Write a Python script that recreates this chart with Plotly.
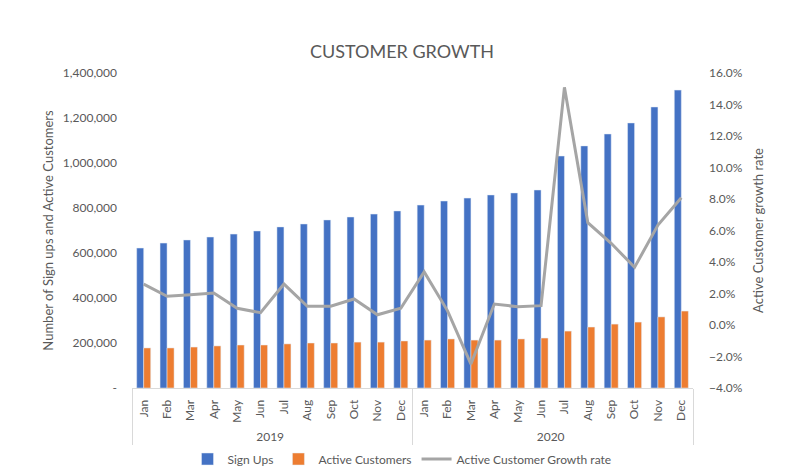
import plotly.graph_objects as go

months = ["Jan", "Feb", "Mar", "Apr", "May", "Jun", "Jul", "Aug", "Sep", "Oct", "Nov", "Dec"]
years = ["2019", "2020"]

sign_ups = [622000, 644000, 658000, 671000, 684000, 698000, 716000, 729000, 747000, 760000, 773000, 787000,
            813000, 831000, 844000, 858000, 867000, 880000, 1031000, 1076000, 1129000, 1178000, 1249000, 1324000]
active_customers = [178000, 178000, 182000, 187000, 191000, 191000, 196000, 200000, 200000, 204000, 204000, 209000,
                    213000, 218000, 213000, 213000, 218000, 222000, 253000, 271000, 284000, 293000, 316000, 342000]
growth_rate = [0.026, 0.0182, 0.0192, 0.0203, 0.0106, 0.0078, 0.026, 0.0119, 0.0119, 0.0165, 0.0065, 0.0106,
               0.0337, 0.009, -0.0248, 0.0133, 0.0116, 0.0123, 0.1509, 0.065, 0.0519, 0.0366, 0.0635, 0.0808]

left_ticks = [0, 200000, 400000, 600000, 800000, 1000000, 1200000, 1400000]
left_tick_labels = ["-", "200,000", "400,000", "600,000", "800,000", "1,000,000", "1,200,000", "1,400,000"]

x_year = [y for y in years for _ in months]
x_month = months * len(years)
x = [x_year, x_month]

TEXT = "#595959"
FONT = "Lato, Carlito, Calibri, sans-serif"

fig = go.Figure()
fig.add_trace(go.Bar(x=x, y=sign_ups, name="Sign Ups", marker_color="#4472C4", yaxis="y"))
fig.add_trace(go.Bar(x=x, y=active_customers, name="Active Customers", marker_color="#ED7D31", yaxis="y"))
fig.add_trace(go.Scatter(x=x, y=growth_rate, name="Active Customer Growth rate", mode="lines",
                         line=dict(color="#A5A5A5", width=3), yaxis="y2"))

fig.update_layout(
    width=804, height=472,
    paper_bgcolor="white", plot_bgcolor="white",
    font=dict(family=FONT, size=12, color=TEXT),
    title=dict(text="CUSTOMER GROWTH", x=0.5, xanchor="center", xref="container",
               y=1 - 52 / 472, yanchor="middle", yref="container",
               font=dict(size=18, color=TEXT, family=FONT)),
    margin=dict(l=132, r=111, t=73, b=84, autoexpand=False),
    barmode="group", bargap=0.40, bargroupgap=0,
    showlegend=True,
    legend=dict(orientation="h", xref="container", x=0.5, xanchor="center",
                yref="container", y=1 - 459 / 472, yanchor="middle",
                font=dict(size=12, color=TEXT), traceorder="normal"),
    xaxis=dict(type="multicategory", tickangle=-90, showline=True, linecolor="#D9D9D9", linewidth=1,
               showdividers=True, dividercolor="#D9D9D9", dividerwidth=1, ticks="",
               ticklabelstandoff=6, automargin=False,
               tickfont=dict(size=12, color=TEXT), showgrid=False),
    yaxis=dict(range=[0, 1400000], tickvals=left_ticks, ticktext=left_tick_labels, showgrid=False,
               zeroline=False, showline=False, ticks="", ticklabelstandoff=14, automargin=False,
               tickfont=dict(size=12, color=TEXT),
               title=dict(text="Number of Sign ups and Active Customers", font=dict(size=13, color=TEXT), standoff=6)),
    yaxis2=dict(range=[-0.04, 0.16], dtick=0.02, tickformat=".1%", overlaying="y", side="right", showgrid=False,
                zeroline=False, showline=False, ticks="", ticklabelstandoff=15, automargin=False,
                tickfont=dict(size=12, color=TEXT),
                title=dict(text="Active Customer growth rate", font=dict(size=13, color=TEXT), standoff=12)),
)

fig.write_html("out.html", config={"displayModeBar": False},
               post_script="document.body.style.margin='0';document.body.style.overflow='hidden';")
